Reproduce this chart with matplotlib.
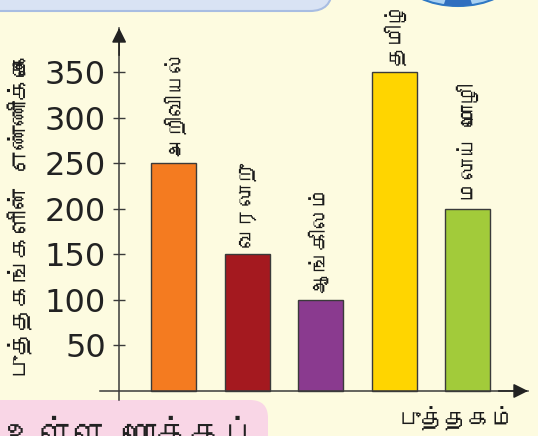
import matplotlib
matplotlib.use('Agg')
import matplotlib.pyplot as plt
from matplotlib import font_manager
from matplotlib.ft2font import FT2Font
from matplotlib.patches import FancyBboxPatch, Ellipse, Polygon

# புத்தகங்களின் எண்ணிக்கை
categories = ['அறிவியல்', 'வரலாறு', 'ஆங்கிலம்', 'தமிழ்', 'மலாய் மொழி']
values = [250, 150, 100, 350, 200]
bar_colors = ['#F47B20', '#A4191F', '#8A3A8F', '#FFD500', '#A2CB3A']
yticks = [50, 100, 150, 200, 250, 300, 350]
ylabel = 'புத்தகங்களின் எண்ணிக்கை'
xlabel = 'புத்தகம்'
footer = 'உள்ள மொத்தப்'


def font_with_char(ch, fallback='DejaVu Sans'):
    # first installed font that actually has the glyph
    for f in font_manager.fontManager.ttflist:
        try:
            if ord(ch) in FT2Font(f.fname).get_charmap():
                return f.name
        except Exception:
            continue
    return fallback


tamil = font_with_char('த')
tfam = [tamil, 'DejaVu Sans']

W, H = 538, 436
fig = plt.figure(figsize=(W / 100, H / 100), dpi=100, facecolor='#FDFBE0')

# page decorations behind the chart, in pixel units
bg = fig.add_axes([0, 0, 1, 1])
bg.set_xlim(0, W)
bg.set_ylim(H, 0)
bg.axis('off')
bg.add_patch(FancyBboxPatch((-40, -40), 372, 51, boxstyle='round,pad=0,rounding_size=22',
                            fc='#D9E3F4', ec='#A8BDE2', lw=1.5))
lens = Ellipse((458, -22), 108, 56, fc='#A9D0F2', ec='#2F78C4', lw=1.5)
bg.add_patch(lens)
core = Polygon([(446, -2), (470, -2), (473, 7), (443, 7)], closed=True, fc='#2F6EBF', ec='none')
bg.add_patch(core)
core.set_clip_path(lens)
bg.add_patch(FancyBboxPatch((-40, 400), 308, 80, boxstyle='round,pad=0,rounding_size=18',
                            fc='#F9D6E6', ec='none'))
bg.text(6, 416, footer, fontsize=24, va='top', ha='left', color='#222222', family=tfam)

# chart axes: y-axis sits at x=-0.74, bars at 0..4
ax = fig.add_axes([100 / W, (H - 400) / H, 428 / W, 372 / H])
ax.patch.set_alpha(0)
xmin, xmax = -1.0, 4.82
ymin, ymax = -9.9, 398.3
yaxis_x = -0.74
ax.set_xlim(xmin, xmax)
ax.set_ylim(ymin, ymax)

ax.bar(range(len(values)), values, width=0.61, color=bar_colors,
       edgecolor='#3a3a3a', linewidth=1.0, zorder=2)

for i, (cat, v) in enumerate(zip(categories, values)):
    ax.text(i, v + 8, cat, rotation=90, ha='center', va='bottom',
            fontsize=15.5, color='#1a1a1a', family=tfam)

for s in ['top', 'right']:
    ax.spines[s].set_visible(False)
ax.spines['left'].set_position(('data', yaxis_x))
ax.spines['bottom'].set_position(('data', 0))
for s in ['left', 'bottom']:
    ax.spines[s].set_color('#3a3a3a')
    ax.spines[s].set_linewidth(1.1)

ax.set_xticks([])
ax.set_yticks(yticks)
ax.tick_params(axis='y', direction='inout', length=9, width=1.0, color='#3a3a3a',
               labelsize=23, pad=5, labelcolor='#222222')

# arrow heads on both axes
arrow = dict(arrowstyle='-|>', color='#222222', lw=1.1, mutation_scale=22, shrinkA=0, shrinkB=0)
ax.annotate('', xy=(yaxis_x, ymax), xytext=(yaxis_x, ymax - 30), arrowprops=arrow)
ax.annotate('', xy=(xmax, 0), xytext=(xmax - 0.4, 0), arrowprops=arrow)

fig.text(20 / W, 1 - 215 / H, ylabel, rotation=90, ha='center', va='center',
         fontsize=17.5, color='#1a1a1a', family=tfam)
fig.text(457 / W, 1 - 419 / H, xlabel, ha='center', va='center',
         fontsize=17, color='#1a1a1a', family=tfam)

fig.savefig('out.png', dpi=100, facecolor=fig.get_facecolor())
